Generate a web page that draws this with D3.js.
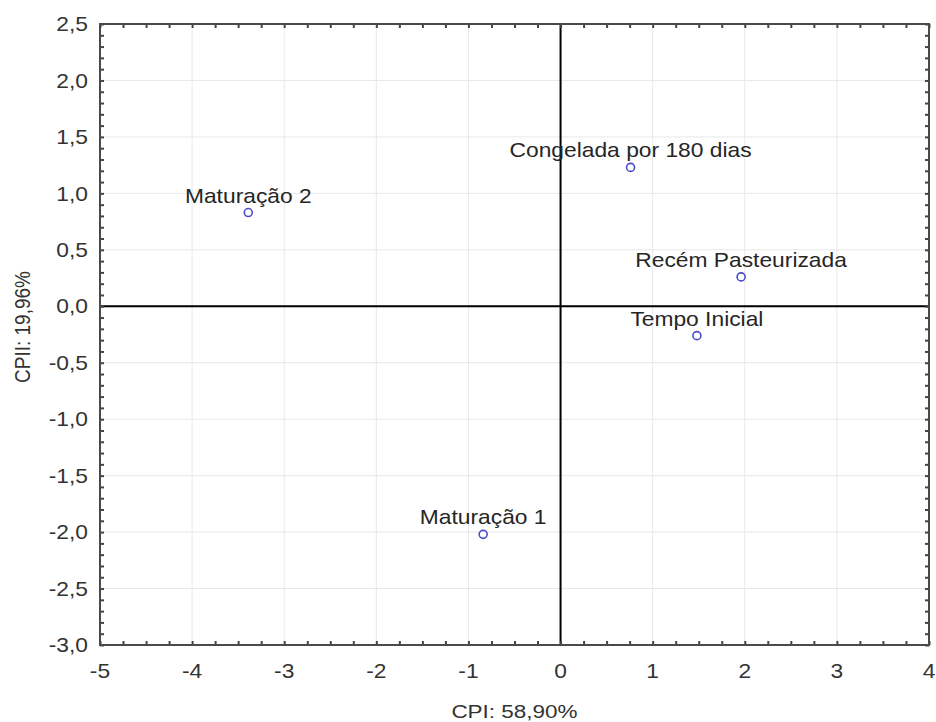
<!DOCTYPE html>
<html>
<head>
<meta charset="utf-8">
<script src="https://cdn.jsdelivr.net/npm/d3@7"></script>
<style>
  html, body { margin: 0; padding: 0; background: #fff; }
  svg { display: block; font-family: Arial, "Liberation Sans", sans-serif; }
</style>
</head>
<body>
<svg id="chart" width="936" height="722"></svg>
<script>
// Sample groups and their scores on the first two principal components
const labels = ["Maturação 2", "Congelada por 180 dias", "Recém Pasteurizada", "Tempo Inicial", "Maturação 1"];
const cp1 = [-3.39, 0.76, 1.96, 1.48, -0.84];
const cp2 = [0.83, 1.23, 0.26, -0.26, -2.02];

const xTicks = [-5, -4, -3, -2, -1, 0, 1, 2, 3, 4];
const yTicks = [2.5, 2.0, 1.5, 1.0, 0.5, 0.0, -0.5, -1.0, -1.5, -2.0, -2.5, -3.0];
const xTitle = "CPI: 58,90%";
const yTitle = "CPII: 19,96%";

const svg = d3.select("#chart");
const m = { left: 100, right: 929, top: 24, bottom: 645 };
const wide = 1.14; // horizontal stretch of the lettering

const x = d3.scaleLinear().domain([-5, 4]).range([m.left, m.right]);
const y = d3.scaleLinear().domain([-3, 2.5]).range([m.bottom, m.top]);

const fmt = v => d3.format(".1f")(v).replace(".", ",").replace("−", "-");

// light grid at the major ticks
const grid = svg.append("g").attr("stroke", "#e8e8e8").attr("stroke-width", 1);
grid.selectAll(".gx").data(xTicks).join("line")
  .attr("x1", d => x(d)).attr("x2", d => x(d))
  .attr("y1", m.top).attr("y2", m.bottom);
grid.selectAll(".gy").data(yTicks).join("line")
  .attr("x1", m.left).attr("x2", m.right)
  .attr("y1", d => y(d)).attr("y2", d => y(d));

// zero reference lines
svg.append("line").attr("x1", x(0)).attr("x2", x(0)).attr("y1", m.top).attr("y2", m.bottom)
  .attr("stroke", "#000").attr("stroke-width", 2);
svg.append("line").attr("x1", m.left).attr("x2", m.right).attr("y1", y(0)).attr("y2", y(0))
  .attr("stroke", "#000").attr("stroke-width", 2);

// inward ticks on all four sides (major + minor)
const xMinor = d3.range(-5, 4.001, 0.25);
const yMinor = d3.range(-3, 2.5001, 0.1);
const tickCol = "#444";
const axB = d3.axisBottom(x).tickValues(xMinor).tickSizeInner(-4).tickSizeOuter(0).tickFormat("");
const axT = d3.axisTop(x).tickValues(xMinor).tickSizeInner(-4).tickSizeOuter(0).tickFormat("");
const axL = d3.axisLeft(y).tickValues(yMinor).tickSizeInner(-4).tickSizeOuter(0).tickFormat("");
const axR = d3.axisRight(y).tickValues(yMinor).tickSizeInner(-4).tickSizeOuter(0).tickFormat("");
[[axB, `translate(0,${m.bottom})`], [axT, `translate(0,${m.top})`],
 [axL, `translate(${m.left},0)`], [axR, `translate(${m.right},0)`]].forEach(([ax, t]) => {
  const g = svg.append("g").attr("transform", t).call(ax);
  g.select(".domain").remove();
  g.selectAll("line").attr("stroke", tickCol).attr("stroke-width", 2);
});

// frame
svg.append("rect").attr("x", m.left).attr("y", m.top)
  .attr("width", m.right - m.left).attr("height", m.bottom - m.top)
  .attr("fill", "none").attr("stroke", "#4a4a4a").attr("stroke-width", 2);

// tick labels
const tl = svg.append("g").attr("fill", "#333").attr("font-size", 20);
tl.selectAll(".xl").data(xTicks).join("text")
  .attr("transform", d => `translate(${x(d)},${m.bottom + 33}) scale(${wide},1)`)
  .attr("text-anchor", "middle").text(d => String(d));
tl.selectAll(".yl").data(yTicks).join("text")
  .attr("transform", d => `translate(${m.left - 12},${y(d)}) scale(${wide},1)`)
  .attr("dy", "0.36em")
  .attr("text-anchor", "end").text(d => fmt(d));

// axis titles
svg.append("text").attr("transform", `translate(${(m.left + m.right) / 2},718) scale(1.25,1)`)
  .attr("text-anchor", "middle").attr("fill", "#333").attr("font-size", 18).text(xTitle);
svg.append("text").attr("transform", `translate(30,327) scale(1.2,1) rotate(-90)`)
  .attr("text-anchor", "middle").attr("fill", "#333").attr("font-size", 19).text(yTitle);

// points with labels
const pts = labels.map((l, i) => ({ label: l, a: cp1[i], b: cp2[i] }));
svg.selectAll(".pt").data(pts).join("circle")
  .attr("cx", d => x(d.a)).attr("cy", d => y(d.b)).attr("r", 4)
  .attr("fill", "#fff").attr("stroke", "#4b4bd0").attr("stroke-width", 1.6);
svg.selectAll(".pl").data(pts).join("text")
  .attr("transform", d => `translate(${x(d.a)},${y(d.b) - 10}) scale(${wide},1)`)
  .attr("text-anchor", "middle").attr("fill", "#262626").attr("font-size", 20)
  .text(d => d.label);
</script>
</body>
</html>
